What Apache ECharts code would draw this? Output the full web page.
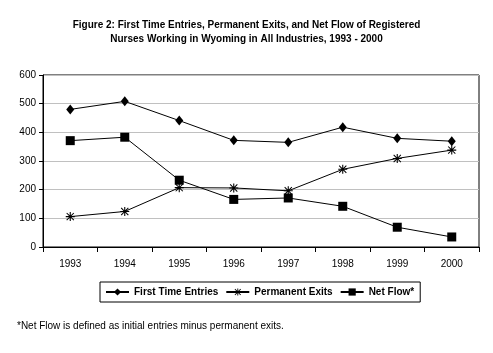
<!DOCTYPE html>
<html>
<head>
<meta charset="utf-8">
<script src="https://cdn.jsdelivr.net/npm/echarts@6/dist/echarts.min.js"></script>
<style>
  html, body { margin: 0; padding: 0; background: #fff; }
  #chart { width: 493px; height: 353px; }
</style>
</head>
<body>
<div id="chart"></div>
<script>
// chart data
const years = ['1993', '1994', '1995', '1996', '1997', '1998', '1999', '2000'];
const firstTimeEntries = [480, 508, 441, 372, 365, 418, 379, 369];
const permanentExits = [106, 124, 207, 206, 196, 271, 309, 338];
const netFlow = [371, 383, 233, 166, 171, 142, 69, 35];
const yTicks = [0, 100, 200, 300, 400, 500, 600];

// asterisk drawn as filled thin bars
const asterisk = 'path://M4.4,0L5.6,0L5.6,3.6L8.6,0.6L9.4,1.4L6.4,4.4L10,4.4L10,5.6L6.4,5.6L9.4,8.6L8.6,9.4L5.6,6.4L5.6,10L4.4,10L4.4,6.4L1.4,9.4L0.6,8.6L3.6,5.6L0,5.6L0,4.4L3.6,4.4L0.6,1.4L1.4,0.6L4.4,3.6Z';

const chart = echarts.init(document.getElementById('chart'));

chart.setOption({
    animation: false,
    textStyle: { fontFamily: 'Liberation Sans' },
    title: {
        text: 'Figure 2: First Time Entries, Permanent Exits, and Net Flow of Registered\nNurses Working in Wyoming in All Industries, 1993 - 2000',
        left: 'center',
        top: 13,
        textStyle: {
            fontSize: 10,
            fontWeight: 'bold',
            color: '#000',
            lineHeight: 14,
            fontFamily: 'Liberation Sans'
        }
    },
    grid: {
        left: 43,
        right: 14,
        top: 75,
        bottom: 106,
        show: true,
        borderColor: '#000',
        borderWidth: 1
    },
    legend: {
        left: 100,
        top: 282,
        padding: [5, 6, 5, 5],
        borderColor: '#000',
        borderWidth: 1,
        itemGap: 7,
        itemWidth: 23,
        itemHeight: 9,
        textStyle: { fontSize: 10, fontWeight: 'bold', color: '#000', fontFamily: 'Liberation Sans' },
        data: ['First Time Entries', 'Permanent Exits', 'Net Flow*']
    },
    graphic: [{
        type: 'text',
        left: 17,
        top: 321,
        style: {
            text: '*Net Flow is defined as initial entries minus permanent exits.',
            fontSize: 10,
            fill: '#000',
            fontFamily: 'Liberation Sans'
        }
    }],
    xAxis: {
        type: 'category',
        data: years,
        boundaryGap: true,
        axisLine: { lineStyle: { color: '#000', width: 1 } },
        axisTick: { show: true, length: 5, lineStyle: { color: '#000' } },
        axisLabel: { color: '#000', fontSize: 10, margin: 12 }
    },
    yAxis: {
        type: 'value',
        min: yTicks[0],
        max: yTicks[yTicks.length - 1],
        interval: 100,
        axisLine: { show: true, lineStyle: { color: '#000', width: 1 } },
        axisTick: { show: true, length: 4, lineStyle: { color: '#000' } },
        axisLabel: { color: '#000', fontSize: 10, margin: 7 },
        splitLine: { show: true, lineStyle: { color: '#c0c0c0', width: 1 } }
    },
    series: [
        {
            name: 'First Time Entries',
            type: 'line',
            data: firstTimeEntries,
            symbol: 'diamond',
            symbolSize: [8, 10],
            lineStyle: { color: '#000', width: 1 },
            itemStyle: { color: '#000', borderWidth: 0 }
        },
        {
            name: 'Permanent Exits',
            type: 'line',
            data: permanentExits,
            symbol: asterisk,
            symbolSize: 9,
            lineStyle: { color: '#000', width: 1 },
            itemStyle: { color: '#000', borderWidth: 0 }
        },
        {
            name: 'Net Flow*',
            type: 'line',
            data: netFlow,
            symbol: 'rect',
            symbolSize: 9,
            lineStyle: { color: '#000', width: 1 },
            itemStyle: { color: '#000', borderWidth: 0 }
        }
    ]
});
</script>
</body>
</html>
